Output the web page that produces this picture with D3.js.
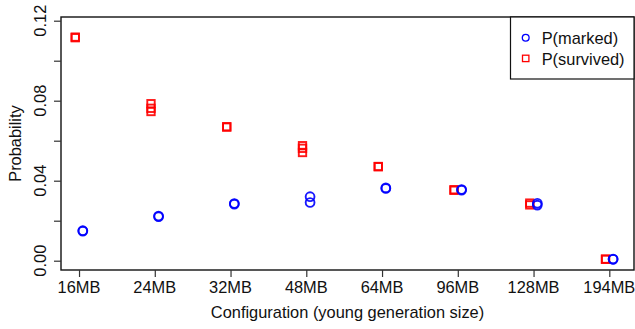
<!DOCTYPE html>
<html>
<head>
<meta charset="utf-8">
<script src="https://cdn.jsdelivr.net/npm/d3@7"></script>
<style>
  html, body { margin: 0; padding: 0; background: #fff; }
  svg { display: block; font-family: "Liberation Sans", Arial, Helvetica, sans-serif; }
</style>
</head>
<body>
<svg id="chart" width="635" height="329"></svg>
<script>
// Young generation sizes tested
const configs = ["16MB", "24MB", "32MB", "48MB", "64MB", "96MB", "128MB", "194MB"];

// Per-run probabilities for each configuration
const markedRuns = [
  [0.0148, 0.0150],
  [0.0220, 0.0223],
  [0.0283, 0.0286],
  [0.0320, 0.0291],
  [0.0361, 0.0364],
  [0.0353, 0.0356],
  [0.0278, 0.0287],
  [0.0007, 0.0008]
];
const survivedRuns = [
  [0.1115, 0.1118],
  [0.0785, 0.0762, 0.0746],
  [0.0670, 0.0668],
  [0.0575, 0.0562, 0.0541],
  [0.0470, 0.0471],
  [0.0352, 0.0355],
  [0.0279, 0.0288],
  [0.0008, 0.0007]
];

const yTicks = [0, 0.02, 0.04, 0.06, 0.08, 0.10, 0.12];
const yLabelTicks = [0, 0.04, 0.08, 0.12];

const legendItems = [
  { label: "P(marked)", shape: "circle", color: "#0000ff" },
  { label: "P(survived)", shape: "square", color: "#ff0000" }
];

const svg = d3.select("#chart");
const plot = { left: 61, right: 634, top: 17, bottom: 270 };

const x = d3.scaleLinear().domain([0.762, 8.326]).range([plot.left, plot.right]);
const y = d3.scaleLinear().domain([0, 0.12]).range([260.7, 20.7]);

const fontSize = 16.4;
const axisColor = "#333";

// Points: squares slightly left, circles slightly right of each tick
const survivedPts = survivedRuns.flatMap((runs, i) => runs.map(v => ({ i: i + 1, v })));
const markedPts = markedRuns.flatMap((runs, i) => runs.map(v => ({ i: i + 1, v })));

const sq = 7.4;
svg.append("g").selectAll("rect").data(survivedPts).join("rect")
  .attr("x", d => x(d.i - 0.05) - sq / 2)
  .attr("y", d => y(d.v) - sq / 2)
  .attr("width", sq).attr("height", sq)
  .attr("fill", "none").attr("stroke", "#ff0000").attr("stroke-width", 1.9)
  .attr("stroke-opacity", 0.9);

svg.append("g").selectAll("circle").data(markedPts).join("circle")
  .attr("cx", d => x(d.i + 0.05))
  .attr("cy", d => y(d.v))
  .attr("r", 4.4)
  .attr("fill", "none").attr("stroke", "#0000ff").attr("stroke-width", 1.9)
  .attr("stroke-opacity", 0.9);

// Frame
svg.append("rect")
  .attr("x", plot.left).attr("y", plot.top)
  .attr("width", plot.right - plot.left).attr("height", plot.bottom - plot.top)
  .attr("fill", "none").attr("stroke", "#111").attr("stroke-width", 1.4);

// Y axis
const yAxis = d3.axisLeft(y).tickValues(yTicks).tickSize(7).tickFormat("");
const gy = svg.append("g").attr("transform", `translate(${plot.left},0)`).call(yAxis);
gy.select(".domain").remove();
gy.selectAll(".tick line").attr("stroke", axisColor).attr("stroke-width", 1.2);

svg.append("g").selectAll("text").data(yLabelTicks).join("text")
  .attr("transform", d => `translate(46,${y(d)}) rotate(-90)`)
  .attr("text-anchor", "middle")
  .attr("font-size", fontSize).attr("fill", "#111")
  .text(d => d3.format(".2f")(d));

// X axis
const xAxis = d3.axisBottom(x).tickValues(d3.range(1, configs.length + 1)).tickSize(7)
  .tickFormat("");
const gx = svg.append("g").attr("transform", `translate(0,${plot.bottom})`).call(xAxis);
gx.select(".domain").remove();
gx.selectAll(".tick line").attr("stroke", axisColor).attr("stroke-width", 1.2);

svg.append("g").selectAll("text").data(configs).join("text")
  .attr("x", (d, i) => x(i + 1)).attr("y", 292.7)
  .attr("text-anchor", "middle")
  .attr("font-size", fontSize).attr("fill", "#111")
  .text(d => d);

// Axis titles
svg.append("text")
  .attr("x", (plot.left + plot.right) / 2).attr("y", 317.5)
  .attr("text-anchor", "middle").attr("font-size", fontSize).attr("fill", "#111")
  .text("Configuration (young generation size)");

svg.append("text")
  .attr("transform", `translate(21,${(plot.top + plot.bottom) / 2}) rotate(-90)`)
  .attr("text-anchor", "middle").attr("font-size", fontSize).attr("fill", "#111")
  .text("Probability");

// Legend
const lg = svg.append("g");
lg.append("rect")
  .attr("x", 510.5).attr("y", plot.top)
  .attr("width", plot.right - 510.5).attr("height", 79 - plot.top)
  .attr("fill", "#fff").attr("stroke", "#111").attr("stroke-width", 1.2);

const items = lg.selectAll("g.item").data(legendItems).join("g")
  .attr("class", "item")
  .attr("transform", (d, i) => `translate(0,${37.8 + i * 20.6})`);

items.each(function (d) {
  const g = d3.select(this);
  if (d.shape === "circle") {
    g.append("circle").attr("cx", 525.7).attr("cy", 0).attr("r", 3.4)
      .attr("fill", "none").attr("stroke", d.color).attr("stroke-width", 1.3);
  } else {
    g.append("rect").attr("x", 525.7 - 3.2).attr("y", -3.2).attr("width", 6.4).attr("height", 6.4)
      .attr("fill", "none").attr("stroke", d.color).attr("stroke-width", 1.3);
  }
  g.append("text").attr("x", 541.7).attr("y", 6.2)
    .attr("font-size", fontSize).attr("fill", "#111").text(d.label);
});
</script>
</body>
</html>
